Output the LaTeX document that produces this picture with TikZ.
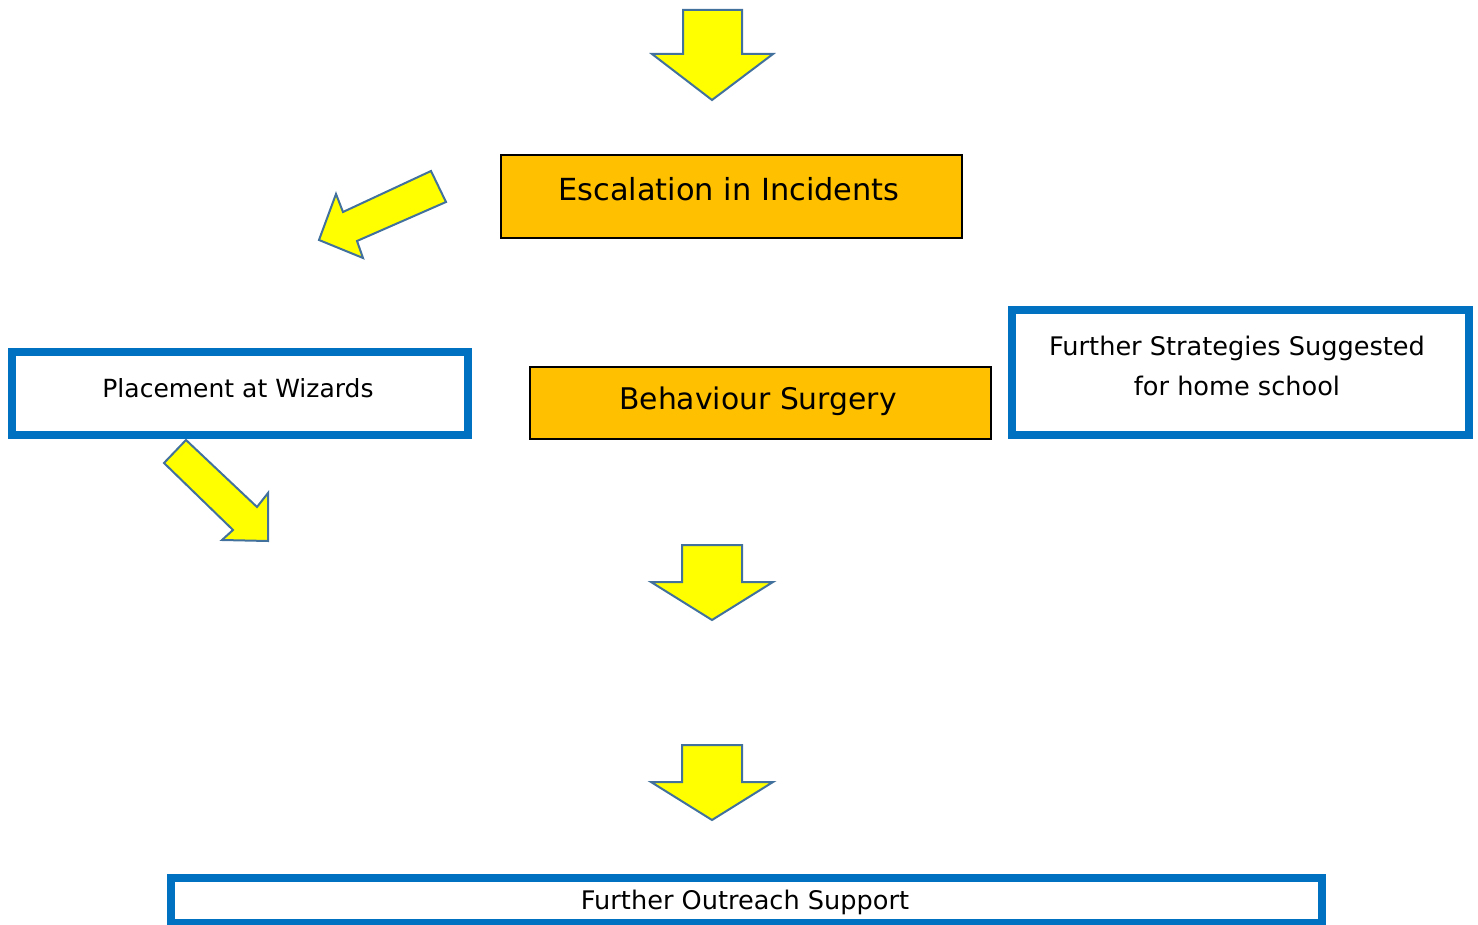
\documentclass[tikz,border=0pt]{standalone}
\usepackage{fontspec}
\setmainfont{DejaVu Sans}
\definecolor{boxblue}{HTML}{0070C0}
\definecolor{orangebox}{HTML}{FFC000}
\definecolor{arrowedge}{HTML}{41719C}
\definecolor{arrowfill}{HTML}{FFFF00}
\begin{document}
\begin{tikzpicture}[x=0.5pt,y=-0.5pt,
  blockarrow/.style={draw=arrowedge,fill=arrowfill,line width=1pt,line join=miter},
  orangerect/.style={draw=black,fill=orangebox,line width=0.7pt,inner sep=0pt},
  bluerect/.style={draw=boxblue,fill=white,line width=4pt,inner sep=0pt},
  bigtext/.style={font=\fontsize{15.2}{18}\selectfont,inner sep=0pt},
  smalltext/.style={font=\fontsize{12.8}{20}\selectfont,inner sep=0pt,align=center}]
\useasboundingbox (0,0) rectangle (1478,925);
% block arrows
\draw[blockarrow] (683,10) -- (742,10) -- (742,54) -- (773,54) -- (712,100) -- (652,54) -- (683,54) -- cycle;
\draw[blockarrow] (431,171) -- (446,202) -- (357,241) -- (363,258) -- (319,240) -- (336,194) -- (343,212) -- cycle;
\draw[blockarrow] (186,440) -- (257,507) -- (268,493) -- (268,541) -- (222,540) -- (233,530) -- (164,463) -- cycle;
\draw[blockarrow] (682,545) -- (742,545) -- (742,582) -- (773,582) -- (712,620) -- (651,582) -- (682,582) -- cycle;
\draw[blockarrow] (682,745) -- (742,745) -- (742,782) -- (773,782) -- (712,820) -- (651,782) -- (682,782) -- cycle;
% orange boxes
\node[orangerect,minimum width=230.5pt,minimum height=41.5pt] (esc) at (731.5,196.5) {};
\node[bigtext] (esctext) at (729,189) {Escalation in Incidents};
\node[orangerect,minimum width=230.5pt,minimum height=36pt] (beh) at (760.5,403) {};
\node[bigtext,font=\fontsize{14.9}{18}\selectfont] (behtext) at (758,401) {Behaviour Surgery};
% blue boxes
\node[bluerect,minimum width=228pt,minimum height=41.5pt] (plc) at (240,393.5) {};
\node[smalltext,font=\fontsize{12.5}{20}\selectfont] (plctext) at (238,388) {Placement at Wizards};
\node[bluerect,minimum width=228.5pt,minimum height=62.5pt] (str) at (1240.5,372.5) {};
\node[smalltext] (strtext) at (1237,366) {Further Strategies Suggested\\for home school};
\node[bluerect,minimum width=575.5pt,minimum height=22.5pt] (out) at (746.5,900) {};
\node[smalltext] (outtext) at (745,902) {Further Outreach Support};
\end{tikzpicture}
\end{document}
